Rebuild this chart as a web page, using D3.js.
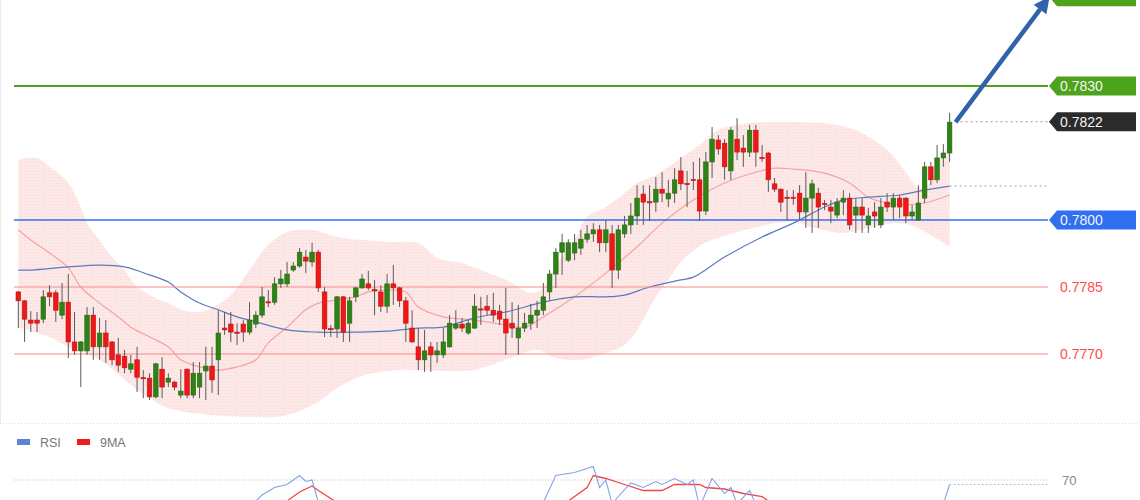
<!DOCTYPE html>
<html><head><meta charset="utf-8">
<script src="https://cdn.jsdelivr.net/npm/d3@7"></script>
<style>body{margin:0;background:#fff;}svg{display:block;font-family:"Liberation Sans",Arial,sans-serif;}</style>
</head><body><svg id="c" width="1140" height="500"></svg>
<script>
// ---- candle data (price) ----
const opens = [.77839,.77819,.77776,.77776,.77778,.77837,.77837,.77787,.77816,.77727,.77707,.77707,.77787,.77716,.77747,.77727,.77698,.77695,.77666,.77687,.77647,.77646,.77604,.77666,.77637,.77637,.77608,.77666,.77608,.77626,.77662,.77673,.77687,.77758,.77767,.77749,.77767,.77749,.77767,.77787,.77817,.77816,.77857,.77857,.77888,.77897,.77917,.77906,.77928,.77839,.77757,.77756,.77828,.77769,.77828,.77848,.77857,.77844,.77839,.77807,.77857,.77848,.77819,.77758,.77716,.77687,.77716,.77698,.77698,.77716,.77758,.77767,.77747,.77758,.77801,.77807,.77798,.77796,.77778,.77769,.77736,.77758,.77769,.77787,.77798,.77839,.77879,.77928,.77910,.77926,.77937,.77957,.77969,.77978,.77949,.77969,.77888,.77969,.77989,.78009,.78058,.78041,.78040,.78069,.78047,.78060,.78110,.78082,.78091,.78090,.78020,.78130,.78179,.78172,.78110,.78181,.78161,.78152,.78201,.78140,.78150,.78081,.78069,.78051,.78051,.78060,.78018,.78049,.78060,.78037,.78029,.78011,.78040,.78049,.78011,.78029,.77989,.78018,.77989,.78040,.78029,.78049,.78049,.78009,.78000,.78049,.78119,.78090,.78139,.78150];
const highs = [.77841,.77821,.77796,.77794,.77843,.77854,.77843,.77859,.77879,.77794,.77729,.77805,.77805,.77781,.77776,.77729,.77736,.77709,.77698,.77716,.77664,.77657,.77680,.77693,.77657,.77640,.77666,.77668,.77682,.77682,.77716,.77716,.77798,.77794,.77794,.77769,.77776,.77816,.77796,.77850,.77843,.77872,.77888,.77906,.77906,.77937,.77933,.77949,.77933,.77850,.77765,.77830,.77830,.77828,.77850,.77879,.77886,.77866,.77854,.77879,.77899,.77850,.77828,.77798,.77758,.77754,.77727,.77727,.77758,.77787,.77798,.77781,.77776,.77834,.77828,.77832,.77837,.77810,.77848,.77816,.77810,.77792,.77812,.77819,.77859,.77888,.77937,.77969,.77957,.77969,.77978,.77989,.77993,.77989,.78000,.77989,.77989,.78009,.78038,.78078,.78078,.78078,.78096,.78107,.78090,.78116,.78141,.78110,.78130,.78139,.78152,.78208,.78190,.78181,.78208,.78228,.78190,.78213,.78213,.78168,.78152,.78094,.78071,.78067,.78067,.78078,.78107,.78090,.78072,.78045,.78045,.78049,.78067,.78060,.78049,.78049,.78027,.78040,.78049,.78060,.78060,.78056,.78051,.78034,.78078,.78130,.78130,.78168,.78170,.78240];
const lows = [.77758,.77727,.77749,.77749,.77769,.77807,.77772,.77778,.77691,.77698,.77626,.77698,.77687,.77687,.77680,.77675,.77660,.77657,.77657,.77615,.77601,.77597,.77601,.77601,.77626,.77619,.77601,.77601,.77601,.77601,.77597,.77613,.77608,.77743,.77727,.77720,.77727,.77743,.77758,.77781,.77805,.77810,.77848,.77850,.77884,.77893,.77881,.77895,.77839,.77738,.77738,.77736,.77727,.77727,.77816,.77846,.77843,.77787,.77794,.77792,.77810,.77805,.77727,.77725,.77664,.77660,.77660,.77680,.77691,.77714,.77754,.77749,.77743,.77756,.77765,.77787,.77772,.77765,.77698,.77736,.77698,.77749,.77754,.77758,.77787,.77821,.77848,.77877,.77906,.77910,.77922,.77949,.77951,.77928,.77928,.77848,.77868,.77960,.77969,.77989,.77989,.77998,.78018,.78040,.78029,.78038,.78067,.78029,.78067,.77998,.78011,.78094,.78146,.78090,.78090,.78134,.78119,.78141,.78119,.78130,.78063,.78063,.78018,.78000,.78034,.78000,.77982,.77971,.77982,.78022,.77993,.78004,.78011,.77978,.77971,.77971,.77971,.77982,.77982,.78018,.78000,.78004,.77993,.78000,.77998,.78038,.78078,.78083,.78119,.78130];
const closes = [.77819,.77778,.77769,.77769,.77828,.77828,.77798,.77816,.77727,.77707,.77727,.77787,.77716,.77747,.77716,.77687,.77675,.77669,.77678,.77648,.77645,.77604,.77678,.77626,.77646,.77626,.77617,.77608,.77657,.77657,.77673,.77642,.77747,.77754,.77749,.77747,.77749,.77776,.77787,.77828,.77815,.77857,.77868,.77879,.77897,.77928,.77908,.77928,.77848,.77756,.77755,.77828,.77749,.77819,.77848,.77868,.77848,.77842,.77807,.77857,.77848,.77819,.77769,.77727,.77687,.77707,.77698,.77707,.77727,.77769,.77767,.77758,.77769,.77807,.77799,.77798,.77787,.77778,.77747,.77758,.77758,.77769,.77787,.77798,.77828,.77879,.77928,.77949,.77949,.77949,.77957,.77969,.77978,.77949,.77978,.77888,.77978,.77989,.78009,.78049,.78040,.78039,.78069,.78060,.78060,.78090,.78081,.78080,.78089,.78020,.78130,.78181,.78159,.78119,.78201,.78152,.78152,.78201,.78152,.78138,.78090,.78069,.78040,.78049,.78049,.78018,.78049,.78081,.78029,.78035,.78020,.78040,.78049,.77989,.78029,.78011,.78009,.78009,.78029,.78029,.78049,.78029,.78009,.78018,.78038,.78119,.78090,.78139,.78150,.78219];

// ---- overlays (candle index, price) ----
const midIdx = [0,2,5,8,10,13,16,18,21,24,26,29,32,35,38,40,43,46,48,51,54,56,59,62,64,68,73,78,81,84,89,94,99,103,108,113,118,121,124,129,133,136,139,142,145,149];
const midVal = [.77978,.77955,.77926,.77893,.77850,.77814,.77783,.77760,.77738,.77716,.77687,.77671,.77664,.77671,.77687,.77725,.77760,.77799,.77814,.77821,.77828,.77839,.77843,.77839,.77805,.77783,.77776,.77765,.77760,.77783,.77828,.77881,.77940,.77993,.78045,.78083,.78107,.78116,.78114,.78105,.78083,.78051,.78038,.78034,.78038,.78056];
const slowIdx = [0,2,8,13,17,21,24,26,29,32,35,38,43,48,54,59,64,68,73,78,84,89,94,97,101,106,108,113,119,124,129,132,136,141,145,149];
const slowVal = [.77888,.77888,.77895,.77899,.77895,.77877,.77861,.77839,.77814,.77799,.77783,.77772,.77754,.77749,.77749,.77751,.77758,.77760,.77781,.77794,.77816,.77828,.77828,.77832,.77850,.77866,.77872,.77917,.77962,.77993,.78029,.78045,.78051,.78056,.78067,.78076];
const upIdx = [0,3,5,8,10,11,13,15,17,19,22,24,26,29,31,34,37,40,43,47,51,55,60,64,67,71,73,78,82,84,86,89,91,94,97,99,102,106,109,112,117,125,130,133,135,139,142,144,146,147,149];
const upVal = [.78134,.78139,.78119,.78083,.78029,.77993,.77955,.77917,.77888,.77850,.77825,.77814,.77799,.77794,.77803,.77832,.77888,.77944,.77973,.77978,.77962,.77955,.77951,.77949,.77915,.77904,.77893,.77866,.77837,.77848,.77899,.77955,.78007,.78029,.78060,.78083,.78101,.78139,.78168,.78201,.78217,.78219,.78215,.78206,.78195,.78157,.78107,.78072,.78085,.78123,.78170];
const lowIdx = [0,5,8,13,18,21,24,29,37,43,48,51,55,61,68,73,78,83,86,90,94,97,99,102,104,106,109,112,115,118,124,127,132,136,140,143,146,149];
const lowVal = [.77760,.77738,.77716,.77687,.77631,.77601,.77579,.77566,.77559,.77563,.77593,.77624,.77651,.77664,.77662,.77664,.77687,.77709,.77691,.77687,.77702,.77720,.77754,.77828,.77866,.77906,.77942,.77960,.77973,.77984,.77996,.77984,.77971,.77982,.77993,.77987,.77966,.77940];

// ---- levels ----
const supportLevels = [0.7785, 0.7770];
const pivotLevel = 0.7800;
const resistLevel = 0.7830;
const targetLevel = 0.7850;
const targetIdx = 165;
const lastPrice = 0.7822;

// ---- RSI panel (visible fragments) ----
const rsiSegs = [
  {idx:[38,39,41,43,45,46,47,48], val:[56,60,65,67,73,69,70,55]},
  {idx:[84,86,89,92,93,94,95,96,98,100,102,103,105,107,108,109,111,113,114,115,117,118], val:[55,73,75,79,65,70,54,59,68,65,69,67,71,67,70,52,71,61,65,54,63,54]},
  {idx:[148,149], val:[54,67]}
];
const maSegs = [
  {idx:[43,45,47,48,51], val:[56,62,66,63,55]},
  {idx:[88,91,92,94,97,100,103,105,109,110,113,116,119,120], val:[56,65,73,71,67,63,63,67,67,65,64,61,59,56]}
];
const rsiLevel = 70;
const legendItems = ["RSI","9MA"];

const svg = d3.select("#c");
const x = d3.scaleLinear().domain([0,149]).range([18.3,949.6]);
const y = d3.scaleLinear().domain([0.7770,0.7830]).range([354,86]);
const yR = d3.scaleLinear().domain([30,70]).range([540,480]);
const L = 14, R = 1048, TX = 1049, TW = 87;

const defs = svg.append("defs");
const pat = defs.append("pattern").attr("id","dots").attr("width",3).attr("height",3).attr("patternUnits","userSpaceOnUse");
pat.append("rect").attr("width",3).attr("height",3).attr("fill","#fde8e8");
pat.append("rect").attr("width",1).attr("height",1).attr("fill","#fad8d8");
defs.append("clipPath").attr("id","rsiclip").append("rect").attr("x",0).attr("y",426).attr("width",1140).attr("height",74);

// left frame line
svg.append("line").attr("x1",0.5).attr("x2",0.5).attr("y1",0).attr("y2",423).attr("stroke","#ececec");

// Bollinger band
const curve = d3.curveCatmullRom.alpha(0.5);
const up = upIdx.map((d,i)=>[x(d),y(upVal[i])]);
const lo = lowIdx.map((d,i)=>[x(d),y(lowVal[i])]).reverse();
const lg = d3.line().curve(curve);
const bandPath = lg(up) + "L" + lg(lo).slice(1) + "Z";
svg.append("path").attr("d",bandPath).attr("fill","url(#dots)");

// MAs
svg.append("path").attr("d",lg(midIdx.map((d,i)=>[x(d),y(midVal[i])]))).attr("fill","none").attr("stroke","#f4a3a3").attr("stroke-width",1.2);
svg.append("path").attr("d",lg(slowIdx.map((d,i)=>[x(d),y(slowVal[i])]))).attr("fill","none").attr("stroke","#5b7bbd").attr("stroke-width",1.2);

// horizontal levels
supportLevels.forEach(v=>{
  svg.append("line").attr("x1",L).attr("x2",R).attr("y1",y(v)).attr("y2",y(v)).attr("stroke","#f48a8a").attr("stroke-width",1);
  svg.append("text").attr("x",1060).attr("y",y(v)).attr("dy","0.36em").attr("font-size",14).attr("fill","#ff4d4d").text(v.toFixed(4));
});
svg.append("line").attr("x1",L).attr("x2",R).attr("y1",y(pivotLevel)).attr("y2",y(pivotLevel)).attr("stroke","#2f6ff0").attr("stroke-width",1.6);
svg.append("line").attr("x1",L).attr("x2",R).attr("y1",y(resistLevel)).attr("y2",y(resistLevel)).attr("stroke","#4ea31c").attr("stroke-width",2);

// dotted guides
const lastIdx = closes.length-1;
svg.append("line").attr("x1",x(lastIdx)+6).attr("x2",R).attr("y1",y(lastPrice)).attr("y2",y(lastPrice)).attr("stroke","#999").attr("stroke-dasharray","2,3");
svg.append("line").attr("x1",x(lastIdx)).attr("x2",R).attr("y1",y(slowVal[slowVal.length-1])).attr("y2",y(slowVal[slowVal.length-1])).attr("stroke","#8ea3d6").attr("stroke-dasharray","2,3");

// candles
const data = opens.map((o,i)=>({i,o,h:highs[i],l:lows[i],c:closes[i]}));
const bw = 4.6;
const g = svg.append("g");
g.selectAll("line.w").data(data).join("line").attr("class","w")
  .attr("x1",d=>x(d.i)).attr("x2",d=>x(d.i)).attr("y1",d=>y(d.h)).attr("y2",d=>y(d.l))
  .attr("stroke","#5a5a5a").attr("stroke-width",1);
g.selectAll("rect").data(data).join("rect")
  .attr("x",d=>x(d.i)-bw/2).attr("width",bw)
  .attr("y",d=>y(Math.max(d.o,d.c)))
  .attr("height",d=>Math.max(1.2,Math.abs(y(d.o)-y(d.c))))
  .attr("fill",d=>d.c>=d.o?"#2e8216":"#ee1818")
  .attr("stroke",d=>d.c>=d.o?"#256c12":"#c41010").attr("stroke-width",0.6);

// tags
function tag(v,fill,showText){
  const yy=y(v);
  svg.append("path").attr("d",`M${TX},${yy}L${TX+8},${yy-9.5}L${TX+TW},${yy-9.5}L${TX+TW},${yy+9.5}L${TX+8},${yy+9.5}Z`).attr("fill",fill);
  if(showText) svg.append("text").attr("x",TX+11).attr("y",yy).attr("dy","0.36em").attr("font-size",14).attr("fill","#f4f4f4").text(v.toFixed(4));
}
tag(targetLevel,"#4ea31c",false);
tag(resistLevel,"#4ea31c",true);
tag(lastPrice,"#2b2b2b",true);
tag(pivotLevel,"#2f6ff0",true);

// arrow
const ax0 = x(lastIdx)+6, ay0 = y(closes[lastIdx]);
const ax1 = x(targetIdx), ay1 = y(targetLevel);
const ang = Math.atan2(ay1-ay0, ax1-ax0);
const hl = 16, hw = 8;
const bx = ax1 - hl*Math.cos(ang), by = ay1 - hl*Math.sin(ang);
svg.append("line").attr("x1",ax0).attr("y1",ay0).attr("x2",bx).attr("y2",by).attr("stroke","#2f62a8").attr("stroke-width",4.5);
svg.append("path").attr("d",`M${ax1},${ay1}L${bx+hw*Math.sin(ang)},${by-hw*Math.cos(ang)}L${bx-hw*Math.sin(ang)},${by+hw*Math.cos(ang)}Z`).attr("fill","#2f62a8");

// separator
svg.append("line").attr("x1",0).attr("x2",1140).attr("y1",423.5).attr("y2",423.5).attr("stroke","#dcdcdc").attr("stroke-dasharray","1,2");

// legend
const legColors = ["#5b84d6","#ee1c1c"];
const legX = [17,77];
legendItems.forEach((t,i)=>{
  svg.append("rect").attr("x",legX[i]).attr("y",439).attr("width",13).attr("height",6).attr("fill",legColors[i]);
  svg.append("text").attr("x",legX[i]+23).attr("y",446.5).attr("font-size",12.5).attr("fill","#777").text(t);
});

// RSI panel
svg.append("line").attr("x1",L).attr("x2",R).attr("y1",yR(rsiLevel)).attr("y2",yR(rsiLevel)).attr("stroke","#bbb").attr("stroke-dasharray","1,2");
svg.append("text").attr("x",1062).attr("y",yR(rsiLevel)).attr("dy","0.36em").attr("font-size",13).attr("fill","#888").text(rsiLevel);
const rg = svg.append("g").attr("clip-path","url(#rsiclip)");
const rl = d3.line().x(d=>x(d[0])).y(d=>yR(d[1]));
maSegs.forEach(s=>rg.append("path").attr("d",rl(s.idx.map((d,i)=>[d,s.val[i]]))).attr("fill","none").attr("stroke","#f04646").attr("stroke-width",1.3));
rsiSegs.forEach(s=>rg.append("path").attr("d",rl(s.idx.map((d,i)=>[d,s.val[i]]))).attr("fill","none").attr("stroke","#86a2e6").attr("stroke-width",1.1));
const lastR = rsiSegs[2].val[1];
rg.append("line").attr("x1",x(lastIdx)).attr("x2",R).attr("y1",yR(lastR)).attr("y2",yR(lastR)).attr("stroke","#a9bde9").attr("stroke-dasharray","2,2");
</script></body></html>
